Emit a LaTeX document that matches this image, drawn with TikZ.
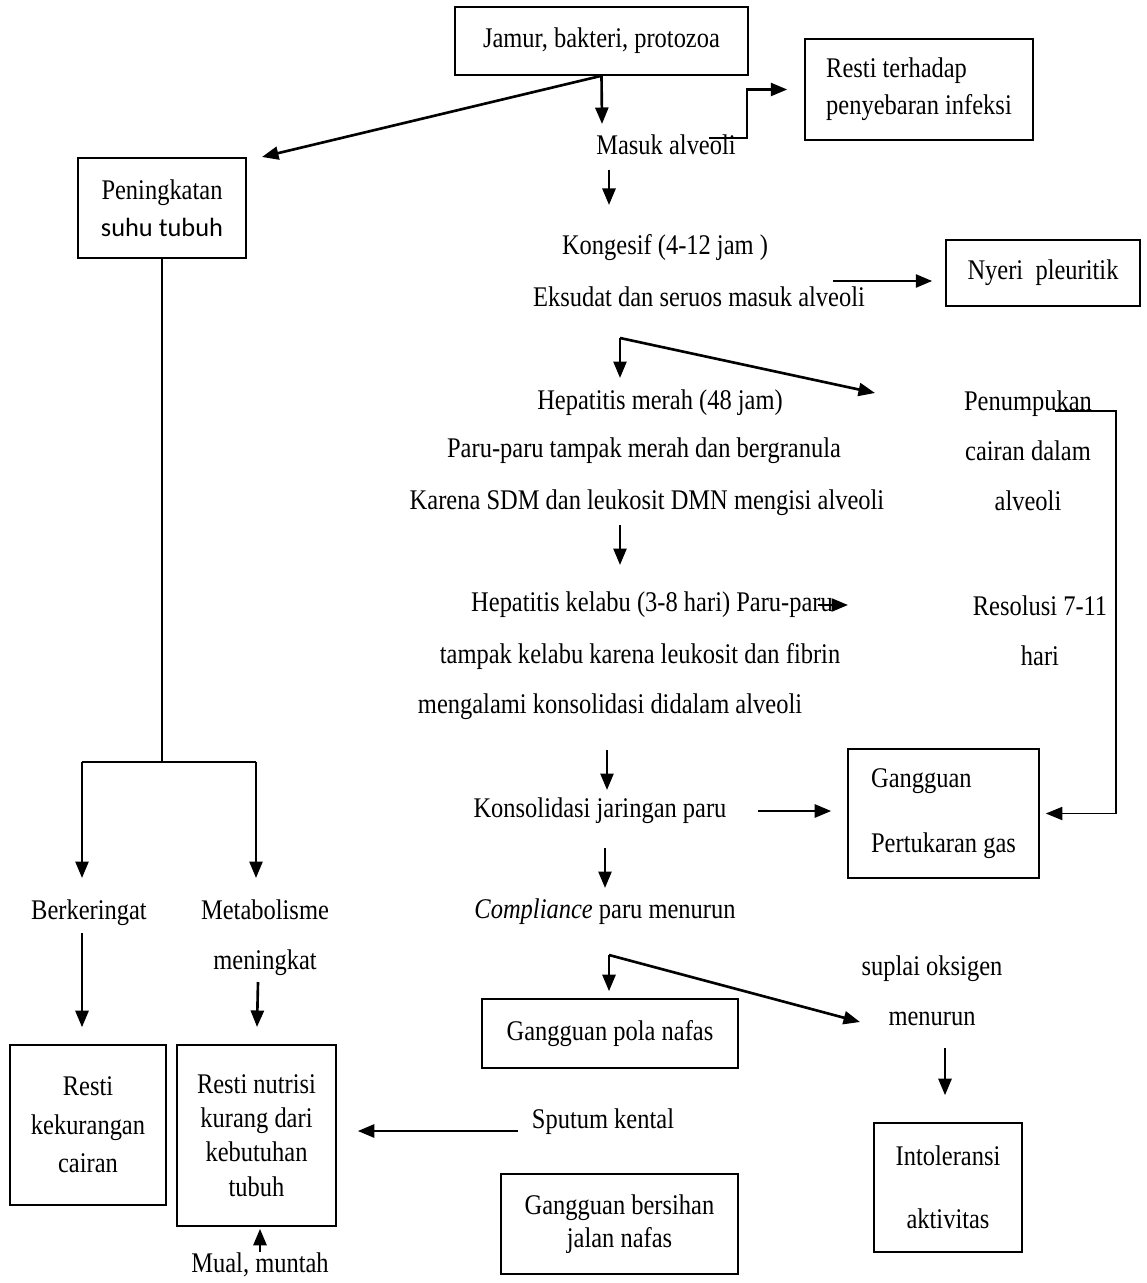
\documentclass[tikz,border=0pt]{standalone}
\usepackage{fontspec}
\setmainfont{Liberation Serif}[FakeStretch=0.86]
\newfontfamily\carlito{Carlito}
\usetikzlibrary{arrows.meta,calc,positioning}

\begin{document}
\begin{tikzpicture}[x=0.02cm,y=-0.02cm,
        box/.style={draw,line width=0.9pt,inner sep=0pt,align=center,font=\fontsize{16.2}{21}\selectfont},
        lbl/.style={inner sep=2pt,align=center,font=\fontsize{16.2}{28.5}\selectfont},
        arr/.style={line width=1.5pt,-{Triangle[length=0.33cm,width=0.26cm]}},
        link/.style={line width=0.8pt}]
        \useasboundingbox (0,0) rectangle (1146,1283);

        % boxes
        \node[box,minimum width=5.86cm,minimum height=1.36cm] (jamur) at (601.5,41) {Jamur, bakteri, protozoa};
        \node[box,align=left,minimum width=4.56cm,minimum height=2.02cm] (infeksi) at (919,89.5) {Resti terhadap\\penyebaran infeksi};
        \node[box,minimum width=3.36cm,minimum height=2cm] (suhu) at (162,208) {Peningkatan\\{\carlito\fontsize{15}{21}\selectfont suhu tubuh}};
        \node[box,minimum width=3.88cm,minimum height=1.32cm] (nyeri) at (1043,273) {Nyeri\ \ pleuritik};
        \node[box,align=left,font=\fontsize{16.2}{37}\selectfont,minimum width=3.82cm,minimum height=2.58cm] (gas) at (943.5,813.5) {Gangguan\\Pertukaran gas};
        \node[box,minimum width=5.12cm,minimum height=1.38cm] (pola) at (610,1033.5) {Gangguan pola nafas};
        \node[box,font=\fontsize{16.2}{19}\selectfont,minimum width=4.74cm,minimum height=2cm] (bersihan) at (619.5,1224) {Gangguan bersihan\\jalan nafas};
        \node[box,font=\fontsize{16.2}{22}\selectfont,minimum width=3.12cm,minimum height=3.2cm] (cairan) at (88,1125) {Resti\\kekurangan\\cairan};
        \node[box,font=\fontsize{16.2}{19.5}\selectfont,minimum width=3.18cm,minimum height=3.62cm] (nutrisi) at (256.5,1135.5) {Resti nutrisi\\kurang dari\\kebutuhan\\tubuh};
        \node[box,font=\fontsize{16.2}{36}\selectfont,minimum width=2.96cm,minimum height=2.58cm] (intol) at (948,1187.5) {Intoleransi\\aktivitas};

        % free text
        \node[lbl] (masuk) at (666,145) {Masuk alveoli};
        \node[lbl] (kongesif) at (665,248) {Kongesif (4-12 jam )};
        \node[lbl] (eksudat) at (699,297) {Eksudat dan seruos masuk alveoli};
        \node[lbl] (merah1) at (660,403) {Hepatitis merah (48 jam)};
        \node[lbl] (merah2) at (644,451) {Paru-paru tampak merah dan bergranula};
        \node[lbl] (merah3) at (647,503) {Karena SDM dan leukosit DMN mengisi alveoli};
        \node[lbl] (numpuk) at (1028,451) {Penumpukan\\cairan dalam\\alveoli};
        \node[lbl] (kelabu1) at (652,605) {Hepatitis kelabu (3-8 hari) Paru-paru};
        \node[lbl] (kelabu2) at (640,657) {tampak kelabu karena leukosit dan fibrin};
        \node[lbl] (kelabu3) at (610,707) {mengalami konsolidasi didalam alveoli};
        \node[lbl] (resolusi) at (1040,631) {Resolusi 7-11\\hari};
        \node[lbl] (konsol) at (600,811) {Konsolidasi jaringan paru};
        \node[lbl] (compl) at (605,912) {\textit{Compliance} paru menurun};
        \node[lbl] (suplai) at (932,991) {suplai oksigen\\menurun};
        \node[lbl] (sputum) at (603,1122) {Sputum kental};
        \node[lbl] (keringat) at (89,913) {Berkeringat};
        \node[lbl] (metab) at (265,938) {Metabolisme\\meningkat};
        \node[lbl] (mual) at (260,1265) {Mual, muntah};

        % turning points and loose ends
        \coordinate (m0) at (602,124);
        \coordinate (s0) at (262,157);
        \coordinate (r0) at (709,138);
        \coordinate (r1) at (747,138);
        \coordinate (k0) at (609,170);
        \coordinate (k1) at (609,205);
        \coordinate (n0) at (833,281);
        \coordinate (h0) at (620,338);
        \coordinate (h1) at (620,378);
        \coordinate (h2) at (875,393);
        \coordinate (p0) at (1055,411);
        \coordinate (p1) at (1116,411);
        \coordinate (e0) at (620,525);
        \coordinate (e1) at (620,565);
        \coordinate (f0) at (818,605);
        \coordinate (f1) at (848,605);
        \coordinate (g0) at (607,750);
        \coordinate (g1) at (607,790);
        \coordinate (c0) at (758,811);
        \coordinate (i0) at (605,848);
        \coordinate (i1) at (605,888);
        \coordinate (q0) at (609,955);
        \coordinate (q1) at (860,1022);
        \coordinate (o0) at (945,1048);
        \coordinate (u0) at (518,1131);
        \coordinate (fork) at (162,762);
        \coordinate (forkL) at (82,762);
        \coordinate (forkR) at (256,762);
        \coordinate (w0) at (82,933);
        \coordinate (w1) at (258,982);
        \coordinate (w2) at (257,1027);
        \coordinate (v0) at (260,1252);

        % connectors
        \draw[arr] (jamur.south) -- (m0);
        \draw[arr] (jamur.south) -- (s0);
        \draw[arr] (r0) -- (r1) |- ([xshift=-0.34cm]infeksi.west);
        \draw[arr] (k0) -- (k1);
        \draw[arr,shorten >=0.26cm] (n0) -- (n0 -| nyeri.west);
        \draw[arr] (h0) -- (h1);
        \draw[arr] (h0) -- (h2);
        \draw[line width=1pt,-{Triangle[length=0.33cm,width=0.26cm]}] (p0) -- (p1) |- ([xshift=0.12cm]gas.east);
        \draw[arr] (e0) -- (e1);
        \draw[arr] (f0) -- (f1);
        \draw[arr] (g0) -- (g1);
        \draw[arr,shorten >=0.32cm] (c0) -- (c0 -| gas.west);
        \draw[arr] (i0) -- (i1);
        \draw[arr,shorten >=0.14cm] (q0) -- (q0 |- pola.north);
        \draw[arr] (q0) -- (q1);
        \draw[arr,shorten >=0.54cm] (o0) -- (o0 |- intol.north);
        \draw[arr,shorten >=0.42cm] (u0) -- (u0 -| nutrisi.east);
        \draw[arr,shorten >=0.04cm] (v0) -- (v0 |- nutrisi.south);
        \draw[link] (suhu.south) -- (fork);
        \draw[line width=1pt] (forkL) -- (forkR);
        \draw[arr] (forkL) -- ++(0,116);
        \draw[arr] (forkR) -- ++(0,116);
        \draw[arr,shorten >=0.34cm] (w0) -- (w0 |- cairan.north);
        \draw[arr] (w1) -- (w2);
      \end{tikzpicture}
\end{document}
